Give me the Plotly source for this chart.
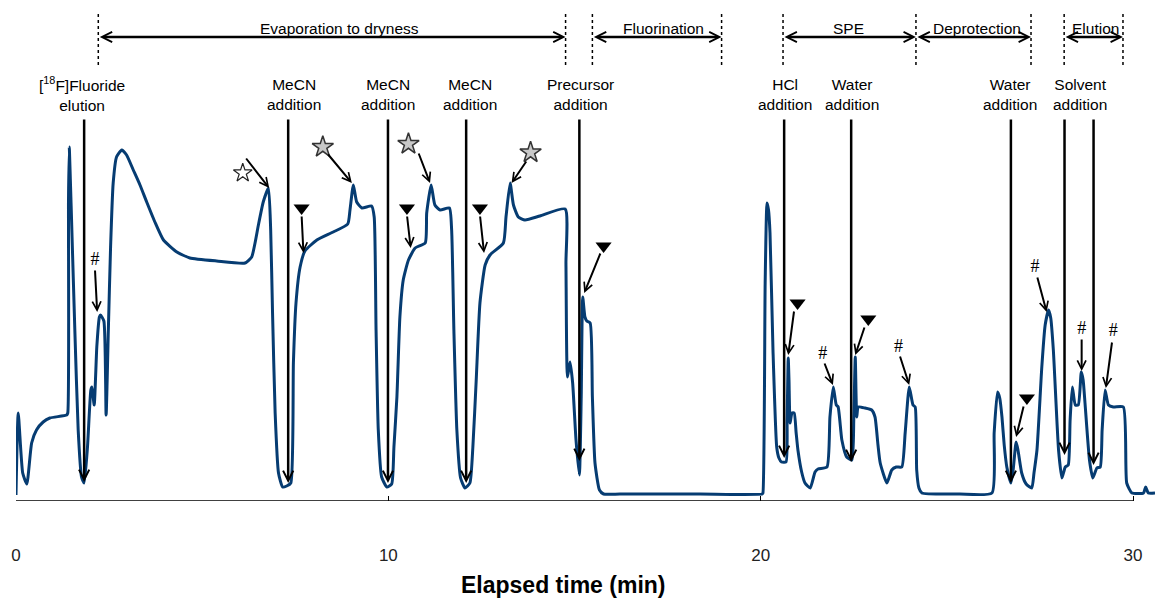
import plotly.graph_objects as go

# ---------------- data ----------------
time_min = [0.00, 0.06, 0.18, 0.29, 0.42, 0.55, 0.73, 0.91, 1.36, 1.39, 1.41, 1.43, 1.46, 1.50, 1.58, 1.67, 1.76, 1.83,
            1.92, 2.01, 2.04, 2.10, 2.17, 2.24, 2.27, 2.36, 2.42, 2.48, 2.54, 2.61, 2.70, 2.84, 2.97, 3.15, 3.33,
            3.51, 3.73, 3.96, 4.32, 4.67, 5.39, 6.15, 6.33, 6.42, 6.51, 6.64, 6.78, 6.84, 6.89, 6.96, 7.05, 7.16,
            7.27, 7.38, 7.45, 7.52, 7.63, 7.76, 8.08, 8.52, 8.91, 8.97, 9.06, 9.15, 9.29, 9.55, 9.62, 9.67, 9.73,
            9.82, 9.96, 10.09, 10.15, 10.23, 10.31, 10.40, 10.54, 10.72, 10.99, 11.03, 11.15, 11.25, 11.39, 11.64,
            11.70, 11.76, 11.84, 11.94, 12.06, 12.19, 12.27, 12.36, 12.46, 12.60, 12.73, 13.09, 13.16, 13.27,
            13.36, 13.49, 13.67, 14.07, 14.75, 14.77, 14.81, 14.88, 14.95, 15.04, 15.13, 15.18, 15.22, 15.28,
            15.33, 15.42, 15.48, 15.55, 15.67, 15.78, 16.22, 18.37, 20.04,
            20.06, 20.12, 20.17, 20.21, 20.25, 20.33, 20.43, 20.49, 20.56, 20.68, 20.71, 20.74, 20.76, 20.79,
            20.84, 20.90, 20.95, 21.00, 21.10, 21.19, 21.33, 21.46, 21.54, 21.78, 21.86, 21.95, 22.03, 22.08,
            22.18, 22.31, 22.45, 22.50, 22.54, 22.58, 22.62, 22.80, 22.98, 23.07, 23.15, 23.21, 23.39, 23.52,
            23.64, 23.79, 23.88, 23.99, 24.09, 24.15, 24.19, 24.25, 24.33, 25.35, 26.21, 26.27, 26.36, 26.42,
            26.48, 26.54, 26.61, 26.72, 26.78, 26.86, 26.91, 27.01, 27.13, 27.28, 27.34, 27.42, 27.55, 27.64,
            27.73, 27.79, 27.86, 28.00, 28.09, 28.18, 28.26, 28.31, 28.37, 28.45, 28.53, 28.61, 28.66, 28.71,
            28.83, 28.92, 29.03, 29.12, 29.17, 29.25, 29.34, 29.47, 29.74, 29.83, 29.97, 30.28, 30.34, 30.41, 30.59]
signal = [1.2, 17.6, 5.6, 3.4, 11.6, 14.2, 15.8, 16.6, 17.2, 17.6, 60.2, 70.8, 64.2, 54.2, 34.2, 14.2, 4.8, 3.6,
          10.8, 22.2, 22.8, 19.2, 30.8, 36.8, 37.2, 36.0, 17.2, 34.2, 50.8, 63.6, 68.8, 70.2, 69.2, 66.2, 63.2,
          59.8, 55.8, 52.2, 49.8, 48.6, 48.0, 47.6, 48.8, 51.6, 55.2, 59.8, 62.6, 54.2, 37.6, 17.6, 5.6, 2.8,
          3.0, 3.6, 27.6, 39.6, 46.8, 50.0, 52.2, 53.8, 55.4, 58.2, 63.2, 59.8, 58.6, 59.0, 56.8, 34.2, 14.2,
          4.8, 2.8, 3.4, 10.8, 20.8, 36.8, 44.2, 48.2, 50.6, 51.6, 57.6, 63.2, 59.2, 58.2, 58.6,
          54.2, 34.2, 14.2, 4.6, 2.6, 3.6, 10.8, 24.2, 39.6, 47.2, 49.2, 51.6, 56.8, 63.6,
          59.2, 56.8, 56.2, 57.0, 58.4, 47.6, 24.8, 27.8, 23.6, 12.2, 5.2, 20.8, 40.8, 36.8,
          36.0, 35.6, 20.8, 7.6, 2.2, 1.4, 1.4, 1.4, 1.4,
          1.6, 43.6, 59.6, 58.2, 53.6, 30.2, 10.8, 8.6, 7.8, 7.8, 16.2, 28.6, 24.2, 15.6,
          17.6, 17.6, 13.8, 10.2, 5.8, 3.6, 2.6, 5.8, 6.4, 6.8, 16.8, 22.8, 19.2, 18.8,
          12.2, 8.8, 8.2, 16.2, 28.8, 16.8, 18.8, 18.6, 18.2, 16.8, 11.2, 7.6, 3.6, 6.2,
          6.8, 6.8, 13.6, 22.8, 19.2, 18.8, 6.2, 2.6, 1.6, 1.4, 1.6, 13.6, 21.8, 20.6,
          16.8, 11.2, 6.8, 3.6, 6.2, 11.8, 10.2, 5.6, 3.4, 2.6, 5.6, 10.2, 26.8, 35.2,
          38.2, 36.6, 30.2, 10.2, 4.6, 6.8, 7.2, 16.2, 22.8, 19.2, 19.2, 25.8, 24.2, 19.6,
          8.2, 4.6, 6.6, 6.8, 14.2, 22.2, 19.2, 18.8, 18.8, 3.6, 1.6, 1.6, 2.8, 1.6, 1.6]

x_ticks = [0, 10, 20, 30]

# process phases (start, end, label, label x)
phase_start = [2.21, 15.48, 20.60, 24.17, 28.15]
phase_end = [14.76, 18.95, 24.17, 27.26, 29.73]
phase_label = ["Evaporation to dryness", "Fluorination", "SPE", "Deprotection", "Elution"]
phase_label_x = [8.68, 17.38, 22.37, 25.81, 28.98]
phase_bounds = [2.21, 14.76, 15.48, 18.95, 20.60, 24.17, 27.26, 28.15, 29.73]

# events (arrow x, arrow tip, label, label x)
event_x = [1.83, 7.31, 9.99, 12.09, 15.13, 20.63, 22.43, 26.72, 28.16, 28.94]
event_tip = [3.8, 3.6, 3.6, 3.6, 8.0, 8.6, 7.8, 3.6, 9.2, 7.2]
event_label = ["[<sup>18</sup>F]Fluoride<br>elution", "MeCN<br>addition", "MeCN<br>addition",
               "MeCN<br>addition", "Precursor<br>addition", "HCl<br>addition", "Water<br>addition",
               "Water<br>addition", "Solvent<br>addition"]
event_label_x = [1.77, 7.47, 9.99, 12.19, 15.15, 20.66, 22.45, 26.70, 28.58]

# peak markers: symbol position, arrow tail, arrow tip
star_open_x, star_open_y = [6.09], [65.6]
star_x = [8.24, 10.54, 13.82]
star_y = [70.8, 71.4, 69.7]
tri_x = [7.67, 10.50, 12.46, 15.78, 20.99, 22.89, 27.15]
tri_y = [58.6, 58.6, 58.6, 51.0, 39.6, 36.4, 20.6]
hash_x = [2.12, 21.67, 23.70, 27.37, 28.62, 29.47]
hash_y = [48.2, 29.4, 30.8, 46.8, 34.4, 34.0]
mark_tail_x = [6.15, 8.35, 10.80, 13.73, 7.67, 10.50, 12.46, 15.71, 20.90, 22.80, 27.07,
               2.12, 21.70, 23.73, 27.42, 28.62, 29.44]
mark_tail_y = [68.8, 69.6, 69.8, 68.2, 57.2, 57.2, 57.2, 49.8, 38.2, 35.0, 19.2,
               46.4, 27.8, 29.2, 45.0, 32.6, 32.0]
mark_tip_x = [6.80, 9.02, 11.12, 13.31, 7.72, 10.60, 12.57, 15.26, 20.74, 22.54, 26.86,
              2.18, 21.94, 23.99, 27.68, 28.62, 29.27]
mark_tip_y = [62.6, 63.6, 63.6, 63.6, 49.6, 50.6, 49.6, 41.6, 29.2, 29.2, 12.8,
              37.8, 23.2, 23.2, 37.8, 26.0, 22.6]

# ---------------- figure ----------------
FONT = "Liberation Sans, Arial, sans-serif"
fig = go.Figure()

fig.add_trace(go.Scatter(x=time_min, y=signal, mode="lines",
                         line=dict(color="#063c72", width=3, shape="spline", smoothing=0.5),
                         hoverinfo="skip", showlegend=False))

fig.add_trace(go.Scatter(x=star_open_x, y=star_open_y, mode="markers",
                         marker=dict(symbol="star", size=14, color="white", line=dict(color="#222", width=1.2)),
                         showlegend=False, hoverinfo="skip"))
fig.add_trace(go.Scatter(x=star_x, y=star_y, mode="markers",
                         marker=dict(symbol="star", size=16, color="#c8c8c8", line=dict(color="#333", width=1.5)),
                         showlegend=False, hoverinfo="skip"))
fig.add_trace(go.Scatter(x=tri_x, y=tri_y, mode="markers",
                         marker=dict(symbol="triangle-down", size=14, color="black", line=dict(width=0)),
                         showlegend=False, hoverinfo="skip"))
fig.add_trace(go.Scatter(x=hash_x, y=hash_y, mode="text", text=["#"] * len(hash_x),
                         textfont=dict(family="Liberation Serif, Times New Roman, serif", size=18, color="black"),
                         showlegend=False, hoverinfo="skip"))

ann = []
shapes = []

# phase dotted boundaries
for xb in phase_bounds:
    shapes.append(dict(type="line", xref="x", yref="y", x0=xb, x1=xb, y0=87.2, y1=97.8,
                       line=dict(color="black", width=1.5, dash="dot")))
# phase double arrows + labels
for s, e, lab, lx in zip(phase_start, phase_end, phase_label, phase_label_x):
    ann.append(dict(x=e, y=92.8, ax=s, ay=92.8, xref="x", yref="y", axref="x", ayref="y",
                    text="", showarrow=True, arrowhead=5, startarrowhead=5, arrowside="end+start",
                    arrowwidth=2.5, arrowsize=0.8, startarrowsize=0.8, arrowcolor="black",
                    standoff=0, startstandoff=0))
    ann.append(dict(x=lx, y=94.6, xref="x", yref="y", text=lab, showarrow=False,
                    font=dict(family=FONT, size=15.5, color="black"), yanchor="middle"))

# event arrows
for ex, et in zip(event_x, event_tip):
    ann.append(dict(x=ex, y=et, ax=ex, ay=76.6, xref="x", yref="y", axref="x", ayref="y",
                    text="", showarrow=True, arrowhead=5, arrowwidth=2.5, arrowsize=0.8,
                    arrowcolor="black", standoff=0))
for lab, lx in zip(event_label, event_label_x):
    ann.append(dict(x=lx, y=81.4, xref="x", yref="y", text=lab, showarrow=False,
                    font=dict(family=FONT, size=15.5, color="black"), yanchor="middle"))

# peak marker arrows
for tx, ty, hx, hy in zip(mark_tail_x, mark_tail_y, mark_tip_x, mark_tip_y):
    ann.append(dict(x=hx, y=hy, ax=tx, ay=ty, xref="x", yref="y", axref="x", ayref="y",
                    text="", showarrow=True, arrowhead=5, arrowwidth=2, arrowsize=0.85,
                    arrowcolor="black", standoff=0))

# axis title (paper coordinates so it is drawn below the plot area)
ann.append(dict(x=(14.68 / 30.59), y=-0.1677, xref="paper", yref="paper",
                text="<b>Elapsed time (min)</b>", showarrow=False,
                font=dict(family=FONT, size=23, color="black"), yanchor="middle", xanchor="center"))

# x axis line (0 to 30)
shapes.append(dict(type="line", xref="x", yref="y", x0=0, x1=30, y0=0, y1=0,
                   line=dict(color="black", width=1.5)))

fig.update_layout(
    width=1155, height=601,
    margin=dict(l=16, r=0, t=0, b=100),
    paper_bgcolor="white", plot_bgcolor="white",
    annotations=ann, shapes=shapes,
    xaxis=dict(range=[0, 30.59], tickvals=x_ticks, ticktext=[str(v) for v in x_ticks],
               ticks="inside", ticklen=5, tickwidth=1, tickcolor="black",
               showgrid=False, zeroline=False, showline=False,
               tickfont=dict(family=FONT, size=17, color="#222"), ticklabelstandoff=42),
    yaxis=dict(range=[0, 100.2], visible=False, showgrid=False, zeroline=False),
    showlegend=False,
)

fig.write_html("out.html")
